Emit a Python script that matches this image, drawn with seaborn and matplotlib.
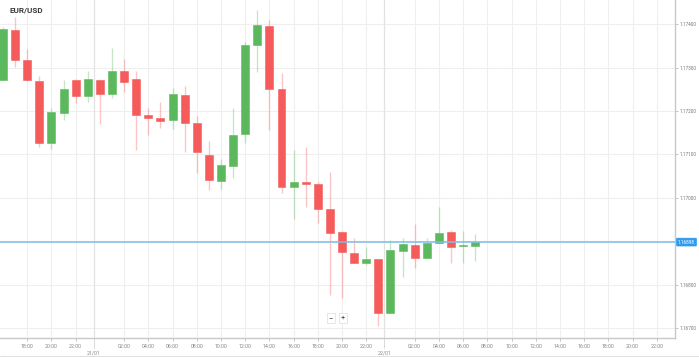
import matplotlib
matplotlib.use("Agg")
import matplotlib.pyplot as plt
import seaborn as sns
import numpy as np
import pandas as pd

# ---- data (hours relative to 21/01 00:00) ----
hours = list(range(-8, 32))
opens = [1.17271, 1.17387, 1.17318, 1.17269, 1.17126, 1.17195, 1.17271, 1.17235,
         1.17271, 1.17239, 1.17292, 1.17274, 1.17191, 1.17184, 1.17179, 1.17237,
         1.17172, 1.17099, 1.17039, 1.17073, 1.17147, 1.17352, 1.17396, 1.17251,
         1.17025, 1.17036, 1.17032, 1.16974, 1.16921, 1.16873, 1.16850, 1.16859,
         1.16735, 1.16877, 1.16891, 1.16861, 1.16896, 1.16921, 1.16890, 1.16889]
highs = [1.17394, 1.17417, 1.17343, 1.17281, 1.17207, 1.17271, 1.17273, 1.17292,
         1.17273, 1.17345, 1.17320, 1.17292, 1.17207, 1.17221, 1.17253, 1.17258,
         1.17188, 1.17131, 1.17089, 1.17207, 1.17359, 1.17433, 1.17410, 1.17288,
         1.17110, 1.17117, 1.17036, 1.17059, 1.16923, 1.16907, 1.16887, 1.16859,
         1.16903, 1.16907, 1.16940, 1.16907, 1.16979, 1.16926, 1.16923, 1.16917]
lows = [1.17271, 1.17301, 1.17269, 1.17117, 1.17112, 1.17179, 1.17218, 1.17221,
        1.17170, 1.17230, 1.17244, 1.17110, 1.17145, 1.17161, 1.17159, 1.17106,
        1.17057, 1.17018, 1.17020, 1.17046, 1.17126, 1.17290, 1.17156, 1.17011,
        1.16951, 1.16979, 1.16942, 1.16776, 1.16769, 1.16850, 1.16845, 1.16705,
        1.16735, 1.16818, 1.16838, 1.16861, 1.16896, 1.16850, 1.16850, 1.16854]
closes = [1.17389, 1.17318, 1.17271, 1.17126, 1.17198, 1.17251, 1.17235, 1.17274,
          1.17239, 1.17292, 1.17267, 1.17191, 1.17184, 1.17177, 1.17239, 1.17172,
          1.17106, 1.17041, 1.17076, 1.17145, 1.17352, 1.17398, 1.17251, 1.17025,
          1.17036, 1.17032, 1.16974, 1.16919, 1.16875, 1.16850, 1.16859, 1.16735,
          1.16880, 1.16894, 1.16861, 1.16896, 1.16919, 1.16887, 1.16891, 1.16898]
current_price = 1.16898
price_ticks = [1.167, 1.168, 1.169, 1.170, 1.171, 1.172, 1.173, 1.174]
time_ticks = [h for h in range(-6, 48, 2) if h not in (0, 24)]
date_marks = [-0.5, 23.5]
date_labels = ["21/01", "22/01"]
title = "EUR/USD"

df = pd.DataFrame({"hour": hours, "open": opens, "high": highs,
                   "low": lows, "close": closes})
df["up"] = df["close"] >= df["open"]

sns.set_theme(style="white")
plt.rcParams["font.family"] = ["Roboto", "DejaVu Sans"]

GREEN = "#5cb85c"
RED = "#f55b5b"

fig = plt.figure(figsize=(6.99, 3.57), dpi=100)
ax = fig.add_axes([0.0, 19 / 357, 675 / 699, 338 / 357])

ax.set_xlim(-8.25, 47.5)
ax.set_ylim(1.16677, 1.174558)

# grid
for t in time_ticks:
    ax.axvline(t, color="#efefef", lw=0.8, zorder=0)
for p in price_ticks:
    ax.axhline(p, color="#efefef", lw=0.8, zorder=0)
for d in date_marks:
    ax.axvline(d, color="#e2e2e2", lw=0.9, zorder=0)

# candles
colors = [GREEN if u else RED for u in df["up"]]
ax.vlines(df["hour"], df["low"], df["high"], colors=colors, alpha=0.35, lw=1.0, zorder=2)
body_bottom = np.minimum(df["open"], df["close"])
body_height = np.maximum(np.abs(df["close"] - df["open"]), 0.000012)
ax.bar(df["hour"], body_height, bottom=body_bottom, width=0.66, color=colors,
       edgecolor=colors, linewidth=0.4, zorder=3)

# current price line
ax.axhline(current_price, color="#7dbde8", lw=1.1, zorder=4)

# axes styling
for s in ["top", "left"]:
    ax.spines[s].set_visible(False)
ax.spines["bottom"].set_color("#c8c8c8")
ax.spines["right"].set_color("#c8c8c8")
ax.spines["bottom"].set_linewidth(1.0)
ax.spines["right"].set_linewidth(1.0)

ax.yaxis.tick_right()
ax.set_yticks(price_ticks)
ax.set_yticklabels(["" if abs(p - current_price) < 0.0002 else f"{p:.5f}"
                    for p in price_ticks])
ax.tick_params(axis="y", which="both", right=True, length=2, width=0.6,
               color="#bbbbbb", labelsize=3.4, labelcolor="#777777", pad=1)
ax.set_xticks(time_ticks)
ax.set_xticklabels([f"{h % 24:02d}:00" for h in time_ticks])
ax.tick_params(axis="x", which="both", bottom=True, length=2.5, width=0.6,
               color="#bbbbbb", labelsize=3.8, labelcolor="#888888", pad=2)

# date markers below axis
for d, lab in zip(date_marks, date_labels):
    ax.plot([d, d], [-0.004, -0.03], transform=ax.get_xaxis_transform(),
            color="#aaaaaa", lw=0.6, ls=(0, (1, 1)), clip_on=False)
    ax.text(d, -0.036, lab, transform=ax.get_xaxis_transform(), ha="center",
            va="top", fontsize=3.8, color="#888888")

# current price label
ax.text(1.0 + 3 / 675, current_price, f"{current_price:.5f}",
        transform=ax.get_yaxis_transform(), ha="left", va="center",
        fontsize=3.4, color="white", zorder=6, clip_on=False,
        bbox=dict(boxstyle="round,pad=0.3,rounding_size=0.15",
                  fc="#2d9cef", ec="#2d9cef", lw=0.5))

# title
fig.text(9 / 699, 1 - 10 / 357, title, fontsize=5.8, fontweight="bold",
         color="#3a3a3a", ha="left", va="center")

# zoom buttons
fig.text(331 / 699, 1 - 318 / 357, "\u2212", fontsize=5.5, color="#444444",
         ha="center", va="center",
         bbox=dict(boxstyle="square,pad=0.25", fc="white", ec="#dddddd", lw=0.5))
fig.text(343 / 699, 1 - 318 / 357, "+", fontsize=5.5, color="#444444",
         ha="center", va="center",
         bbox=dict(boxstyle="square,pad=0.25", fc="white", ec="#dddddd", lw=0.5))

# bottom border line
fig.add_artist(plt.Line2D([0, 1], [1 / 357, 1 / 357], color="#e0e0e0", lw=0.8))

fig.savefig("out.png", dpi=100)
